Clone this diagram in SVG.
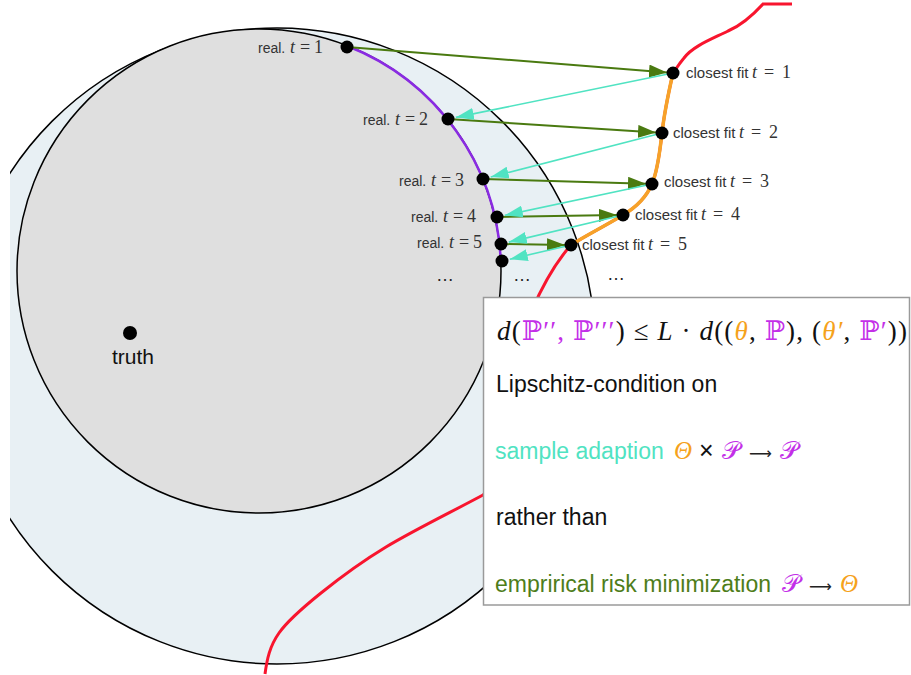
<svg xmlns="http://www.w3.org/2000/svg" width="911" height="675" viewBox="0 0 911 675">
<defs>
<clipPath id="clipL"><rect x="10" y="0" width="901" height="675"/></clipPath>
<marker id="hg" viewBox="0 0 18 13" refX="18" refY="6.5" markerWidth="18" markerHeight="13" markerUnits="userSpaceOnUse" orient="auto"><path d="M0,0 L18,6.5 L0,13 z" fill="#4a7a10"/></marker>
<marker id="ht" viewBox="0 0 18 12" refX="18" refY="6" markerWidth="18" markerHeight="12" markerUnits="userSpaceOnUse" orient="auto"><path d="M0,0 L18,6 L0,12 z" fill="#50e3c2"/></marker>
</defs>
<style>
.dot{fill:#000}
.lab{font-family:"Liberation Sans",Arial,sans-serif;font-size:14px;fill:#333}
.m{font-family:"Liberation Serif","DejaVu Serif",serif;font-size:18px;fill:#333}
.mi{font-style:italic}
.g{stroke:#4a7a10;stroke-width:2;fill:none;marker-end:url(#hg)}
.t{stroke:#50e3c2;stroke-width:1.6;fill:none;marker-end:url(#ht)}
.box{font-family:"Liberation Sans",Arial,sans-serif;font-size:23px}
.mth{font-family:"Liberation Serif","DejaVu Serif",serif}
.arr{font-family:"DejaVu Sans",sans-serif;font-size:16px;fill:#222}
.pp{fill:#c32fe8}
.or{fill:#f5a21b}
.dots{font-family:"Liberation Sans",Arial,sans-serif;font-size:18px;fill:#222}
</style>
<rect width="911" height="675" fill="#fff"/>
<g id="outer-region" clip-path="url(#clipL)">
<circle cx="277" cy="346" r="318" fill="#e8f0f4" stroke="#000" stroke-width="1.5"/>
</g>
<g id="inner-region">
<circle cx="259" cy="271" r="242" fill="#dfdfdf" stroke="#000" stroke-width="1.5"/>
<path d="M347.5,46 A242,242 0 0 1 500.8,261" fill="none" stroke="#8a2be2" stroke-width="2.5"/>
</g>
<g id="curves" fill="none">
<path d="M792,4 L763,4 C752,16 742,25 728,31 C712,39 693,46 684,58 C679,64 676,69 673,73 C668,95 664,115 662,133 C660,150 658,170 652,184 C646,198 635,208 623,215 C605,226 585,236 571,245 C556,262 545,280 532,310 C515,370 515,470 483,495 C450.7,512.3 413,530.7 386,547 C359,563.3 338.8,578.7 321,593 C303.2,607.3 288.3,619.8 279,633 C269.7,646.2 267,659 265,674" stroke="#f8152e" stroke-width="3"/>
<path d="M673,73 C668,95 664,115 662,133 C660,150 658,170 652,184 C646,198 635,208 623,215 C605,226 585,236 571,245" stroke="#f6a229" stroke-width="3.5"/>
</g>
<g id="connectors">
<line class="g" x1="347" y1="47" x2="667" y2="72.5"/>
<line class="g" x1="448" y1="119" x2="656" y2="132.6"/>
<line class="g" x1="483" y1="179" x2="646" y2="183.8"/>
<line class="g" x1="497" y1="217" x2="617" y2="215.1"/>
<line class="g" x1="501" y1="244" x2="565" y2="244.9"/>
<line class="t" x1="673" y1="73" x2="455.8" y2="117.4"/>
<line class="t" x1="662" y1="133" x2="490.7" y2="177"/>
<line class="t" x1="652" y1="184" x2="504.8" y2="215.3"/>
<line class="t" x1="623" y1="215" x2="508.8" y2="242.1"/>
<line class="t" x1="571" y1="245" x2="509.8" y2="259.2"/>
</g>
<g id="real-1"><circle class="dot" cx="347" cy="47" r="6.5"/><text y="53"><tspan class="lab" x="258">real.</tspan><tspan class="m mi" x="290">t</tspan><tspan class="m" x="300">=</tspan><tspan class="m" x="314">1</tspan></text></g>
<g id="real-2"><circle class="dot" cx="448" cy="119" r="6.5"/><text y="125"><tspan class="lab" x="363">real.</tspan><tspan class="m mi" x="395">t</tspan><tspan class="m" x="405">=</tspan><tspan class="m" x="419">2</tspan></text></g>
<g id="real-3"><circle class="dot" cx="483" cy="179" r="6.5"/><text y="186"><tspan class="lab" x="399">real.</tspan><tspan class="m mi" x="431">t</tspan><tspan class="m" x="441">=</tspan><tspan class="m" x="455">3</tspan></text></g>
<g id="real-4"><circle class="dot" cx="497" cy="217" r="6.5"/><text y="222"><tspan class="lab" x="411">real.</tspan><tspan class="m mi" x="443">t</tspan><tspan class="m" x="453">=</tspan><tspan class="m" x="467">4</tspan></text></g>
<g id="real-5"><circle class="dot" cx="501" cy="244" r="6.5"/><text y="248"><tspan class="lab" x="417">real.</tspan><tspan class="m mi" x="449">t</tspan><tspan class="m" x="459">=</tspan><tspan class="m" x="473">5</tspan></text></g>
<g id="real-6"><circle class="dot" cx="502" cy="261" r="6.5"/></g>
<g id="fit-1"><circle class="dot" cx="673" cy="73" r="6.5"/><text y="78"><tspan class="lab" x="686" style="font-size:15px">closest fit</tspan><tspan class="m mi" x="752">t</tspan><tspan class="m" x="764">=</tspan><tspan class="m" x="782">1</tspan></text></g>
<g id="fit-2"><circle class="dot" cx="662" cy="133" r="6.5"/><text y="138"><tspan class="lab" x="673" style="font-size:15px">closest fit</tspan><tspan class="m mi" x="739">t</tspan><tspan class="m" x="751">=</tspan><tspan class="m" x="769">2</tspan></text></g>
<g id="fit-3"><circle class="dot" cx="652" cy="184" r="6.5"/><text y="187"><tspan class="lab" x="664" style="font-size:15px">closest fit</tspan><tspan class="m mi" x="730">t</tspan><tspan class="m" x="742">=</tspan><tspan class="m" x="760">3</tspan></text></g>
<g id="fit-4"><circle class="dot" cx="623" cy="215" r="6.5"/><text y="220"><tspan class="lab" x="635" style="font-size:15px">closest fit</tspan><tspan class="m mi" x="701">t</tspan><tspan class="m" x="713">=</tspan><tspan class="m" x="731">4</tspan></text></g>
<g id="fit-5"><circle class="dot" cx="571" cy="245" r="6.5"/><text y="250"><tspan class="lab" x="582" style="font-size:15px">closest fit</tspan><tspan class="m mi" x="648">t</tspan><tspan class="m" x="660">=</tspan><tspan class="m" x="678">5</tspan></text></g>
<g id="ellipses">
<text class="dots" x="436" y="281">…</text>
<text class="dots" x="513" y="281">…</text>
<text class="dots" x="607" y="280">…</text>
</g>
<g id="truth"><circle class="dot" cx="130" cy="333" r="7"/><text x="133" y="364" text-anchor="middle" font-family="Liberation Sans, Arial, sans-serif" font-size="21" fill="#111">truth</text></g>
<g id="legend">
<rect x="483.5" y="297.5" width="426" height="307.5" fill="#fff" stroke="#9a9a9a" stroke-width="1.5"/>
<text x="497" y="340" class="mth" font-size="27" fill="#111" textLength="410" lengthAdjust="spacing"><tspan font-style="italic">d</tspan>(<tspan class="pp">ℙ′′, ℙ′′′</tspan>) ≤ <tspan font-style="italic">L</tspan> · <tspan font-style="italic">d</tspan>((<tspan class="or" font-style="italic">θ</tspan>, <tspan class="pp">ℙ</tspan>), (<tspan class="or" font-style="italic">θ′</tspan>, <tspan class="pp">ℙ′</tspan>))</text>
<text x="496" y="392" class="box" fill="#111">Lipschitz-condition on</text>
<text y="459" class="box"><tspan x="495" fill="#50e3c2">sample adaption</tspan><tspan x="674" class="mth or" font-style="italic" font-size="25">Θ</tspan><tspan x="699" fill="#111" font-size="25">×</tspan><tspan x="722" class="mth pp" font-size="25">𝒫</tspan><tspan x="749" class="arr">⟶</tspan><tspan x="780" class="mth pp" font-size="25">𝒫</tspan></text>
<text x="496" y="525" class="box" fill="#111">rather than</text>
<text y="592" class="box"><tspan x="495" fill="#4e7d1a">emprirical risk minimization</tspan><tspan x="782" class="mth pp" font-size="25">𝒫</tspan><tspan x="809" class="arr">⟶</tspan><tspan x="840" class="mth or" font-style="italic" font-size="25">Θ</tspan></text>
</g>
</svg>
